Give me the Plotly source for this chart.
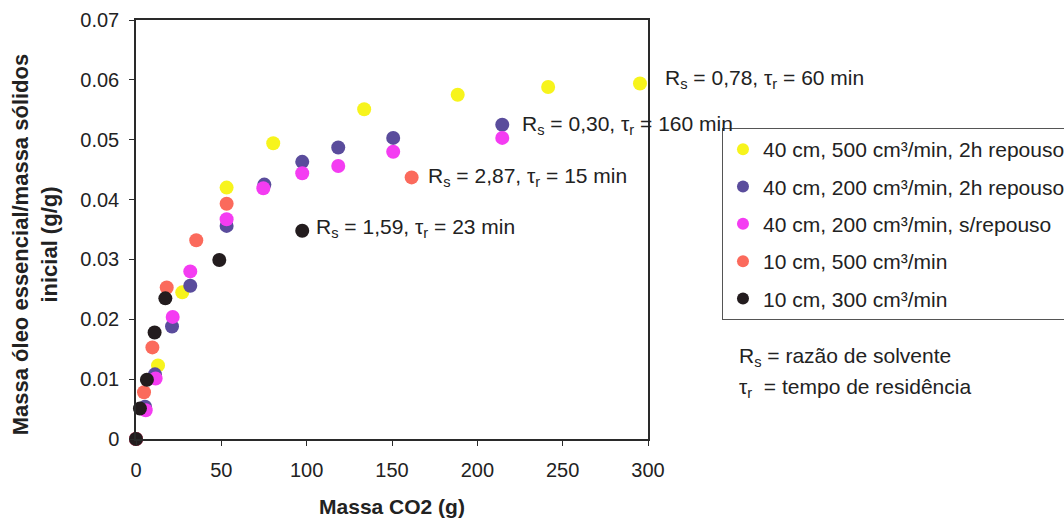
import plotly.graph_objects as go

# Extraction curves: mass of CO2 (g) vs. essential oil yield (g/g initial solids)
series_names = [
    "40 cm, 500 cm³/min, 2h repouso",
    "40 cm, 200 cm³/min, 2h repouso",
    "40 cm, 200 cm³/min, s/repouso",
    "10 cm, 500 cm³/min",
    "10 cm, 300 cm³/min",
]
series_colors = ["#f7f41c", "#5a4c9c", "#f43cf2", "#fb6a5c", "#231c1e"]

yellow_x = [0, 12.9, 27.1, 53.1, 80.4, 133.7, 188.5, 241.5, 295.3]
yellow_y = [0, 0.0123, 0.0245, 0.0420, 0.0494, 0.0551, 0.0575, 0.0588, 0.0594]

purple_x = [0, 5.3, 11.1, 21.1, 31.8, 53.1, 75.2, 97.4, 118.5, 150.7, 214.6]
purple_y = [0, 0.0054, 0.0108, 0.0188, 0.0256, 0.0356, 0.0425, 0.0463, 0.0487, 0.0503, 0.0525]

magenta_x = [0, 5.7, 11.5, 21.5, 31.8, 53.1, 74.6, 97.4, 118.5, 150.7, 214.6]
magenta_y = [0, 0.0048, 0.0101, 0.0204, 0.0280, 0.0367, 0.0419, 0.0444, 0.0456, 0.0480, 0.0503]

red_x = [0, 4.7, 9.6, 18.0, 35.3, 53.1, 161.5]
red_y = [0, 0.0078, 0.0153, 0.0253, 0.0332, 0.0393, 0.0437]

black_x = [0, 2.3, 6.4, 10.9, 17.2, 48.8, 97.4]
black_y = [0, 0.0051, 0.0099, 0.0178, 0.0235, 0.0299, 0.0348]

series_x = [yellow_x, purple_x, magenta_x, red_x, black_x]
series_y = [yellow_y, purple_y, magenta_y, red_y, black_y]

# Labels attached to the last point of each run: (series index, label, x offset, y offset)
run_labels = [
    (0, "R<sub>s</sub> = 0,78, τ<sub>r</sub> = 60 min", 23, 4),
    (1, "R<sub>s</sub> = 0,30, τ<sub>r</sub> = 160 min", 18, 0),
    (3, "R<sub>s</sub> = 2,87, τ<sub>r</sub> = 15 min", 14, 0),
    (4, "R<sub>s</sub> = 1,59, τ<sub>r</sub> = 23 min", 12, 3),
]

x_ticks = [0, 50, 100, 150, 200, 250, 300]
y_ticks = [0, 0.01, 0.02, 0.03, 0.04, 0.05, 0.06, 0.07]

FONT = "Arial, 'Liberation Sans', sans-serif"
TEXT = "#222222"

fig = go.Figure()
for i, name in enumerate(series_names):
    fig.add_trace(go.Scatter(
        x=series_x[i], y=series_y[i], mode="markers", name=name,
        legendgroup=f"g{i}",
        marker=dict(size=14, color=series_colors[i], line=dict(width=0)),
        cliponaxis=False,
    ))

for idx, label, dx, dy in run_labels:
    fig.add_annotation(
        x=series_x[idx][-1], y=series_y[idx][-1], text=label,
        showarrow=False, xanchor="left", yanchor="middle",
        xshift=dx, yshift=dy, font=dict(family=FONT, size=21, color=TEXT),
    )

# Symbol key under the legend
fig.add_annotation(
    xref="paper", yref="paper", x=1.174, y=0.196, xanchor="left", yanchor="middle",
    text="R<sub>s</sub> = razão de solvente", showarrow=False,
    font=dict(family=FONT, size=21, color=TEXT),
)
fig.add_annotation(
    xref="paper", yref="paper", x=1.174, y=0.122, xanchor="left", yanchor="middle",
    text="τ<sub>r</sub>  = tempo de residência", showarrow=False,
    font=dict(family=FONT, size=21, color=TEXT),
)

# Y-axis title, two lines, rotated
fig.add_annotation(
    xref="paper", yref="paper", x=-0.197, y=0.465, xanchor="center", yanchor="middle",
    textangle=-90, showarrow=False,
    text="<b>Massa óleo essencial/massa sólidos<br>inicial (g/g)</b>",
    font=dict(family=FONT, size=22, color=TEXT),
)

axis_common = dict(
    showline=True, linecolor="#2a2a2a", linewidth=1.5, mirror=True,
    ticks="outside", ticklen=5, tickcolor="#2a2a2a", tickwidth=1,
    showgrid=False, zeroline=False,
    tickfont=dict(family=FONT, size=20, color=TEXT),
)

fig.update_xaxes(
    range=[0, 300], tickvals=x_ticks, ticktext=[str(v) for v in x_ticks],
    ticklabelstandoff=7,
    title=dict(text="<b>Massa CO2 (g)</b>", standoff=20,
               font=dict(family=FONT, size=21, color=TEXT)),
    **axis_common,
)
fig.update_yaxes(
    range=[0, 0.07], tickvals=y_ticks,
    ticktext=["0" if v == 0 else f"{v:.2f}" for v in y_ticks],
    ticklabelstandoff=6,
    **axis_common,
)

fig.update_layout(
    width=1064, height=524,
    margin=dict(l=136, r=416, t=20, b=85, autoexpand=False),
    plot_bgcolor="white", paper_bgcolor="white",
    showlegend=True,
    legend=dict(
        x=1.1445, y=0.742, xanchor="left", yanchor="top",
        bordercolor="#555555", borderwidth=1, bgcolor="white",
        font=dict(family=FONT, size=21, color=TEXT),
        tracegroupgap=7, itemsizing="constant",
    ),
)

fig.write_html("out.html")
